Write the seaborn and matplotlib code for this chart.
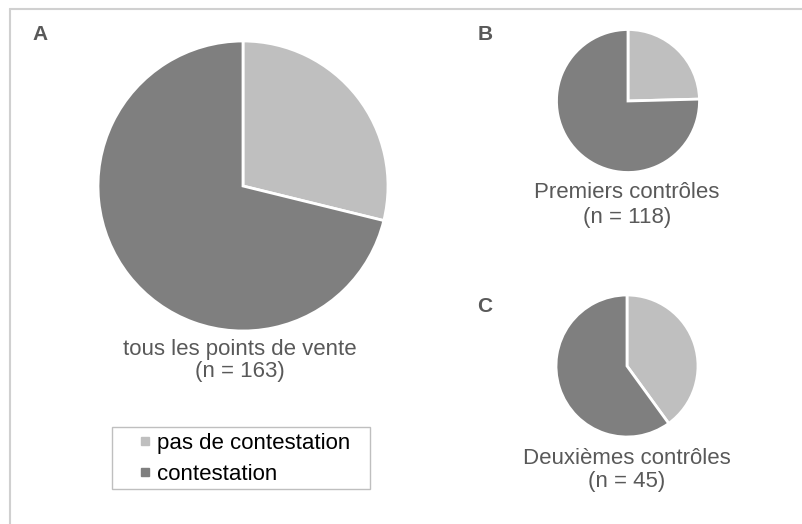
import matplotlib
matplotlib.use("Agg")
import matplotlib.pyplot as plt
from matplotlib.lines import Line2D
from matplotlib.patches import Rectangle
import seaborn as sns

# Data
categories = ["pas de contestation", "contestation"]
tous = [47, 116]          # n = 163
premiers = [29, 89]       # n = 118
deuxiemes = [18, 27]      # n = 45
panel_titles = ["tous les points de vente", "Premiers contrôles", "Deuxièmes contrôles"]
panel_n = ["(n = 163)", "(n = 118)", "(n = 45)"]
panel_letters = ["A", "B", "C"]

sns.set_theme(style="white")
plt.rcParams["font.family"] = ["Liberation Sans", "DejaVu Sans"]

colors = ["#BFBFBF", "#7F7F7F"]
text_gray = "#595959"

W, H = 803, 524
fig = plt.figure(figsize=(W / 100, H / 100), dpi=100)


def px_axes(cx, cy, r):
    # axes box given pie centre / radius in pixels (y from top)
    return fig.add_axes([(cx - r) / W, (H - cy - r) / H, 2 * r / W, 2 * r / H])


# pie boxes: centre x, centre y, radius (pixels)
boxes = [(243, 186, 145), (628, 101, 71.5), (627, 366, 71)]
datasets = [tous, premiers, deuxiemes]

for (cx, cy, r), vals in zip(boxes, datasets):
    ax = px_axes(cx, cy, r)
    ax.pie(vals, colors=colors, startangle=90, counterclock=False,
           wedgeprops=dict(edgecolor="white", linewidth=2))
    ax.set_xlim(-1, 1)
    ax.set_ylim(-1, 1)
    ax.axis("off")

# panel captions
captions = [(240, 349, 372), (627, 193, 217), (627, 458, 481)]
for (x, y1, y2), t, n in zip(captions, panel_titles, panel_n):
    fig.text(x / W, 1 - y1 / H, t, ha="center", va="center", fontsize=16, color=text_gray)
    fig.text(x / W, 1 - y2 / H, n, ha="center", va="center", fontsize=16, color=text_gray)

# panel letters
for (x, y), l in zip([(40, 35), (485, 35), (485, 307)], panel_letters):
    fig.text(x / W, 1 - y / H, l, ha="center", va="center", fontsize=15,
             fontweight="bold", color=text_gray)

# legend
handles = [Line2D([], [], marker="s", linestyle="none", markersize=6,
                  markerfacecolor=c, markeredgecolor=c) for c in colors]
leg = fig.legend(handles, categories, loc="upper left", bbox_to_anchor=(138 / W, 1 - 433 / H),
                 fontsize=16, frameon=False, handlelength=0.6,
                 handletextpad=0.25, labelspacing=0.43, borderpad=0,
                 borderaxespad=0)
for t in leg.get_texts():
    t.set_color("black")
fig.add_artist(Rectangle((112 / W, 1 - 489 / H), 258 / W, 62 / H, transform=fig.transFigure,
                         facecolor="none", edgecolor="#BFBFBF", linewidth=1))

# outer frame (top and left edges visible)
fig.add_artist(Line2D([10 / W, 10 / W], [0, 1 - 9 / H], color="#D0D0D0", linewidth=1.5))
fig.add_artist(Line2D([10 / W, 802 / W], [1 - 9 / H, 1 - 9 / H], color="#D0D0D0", linewidth=1.5))

fig.savefig("out.png", dpi=100)
